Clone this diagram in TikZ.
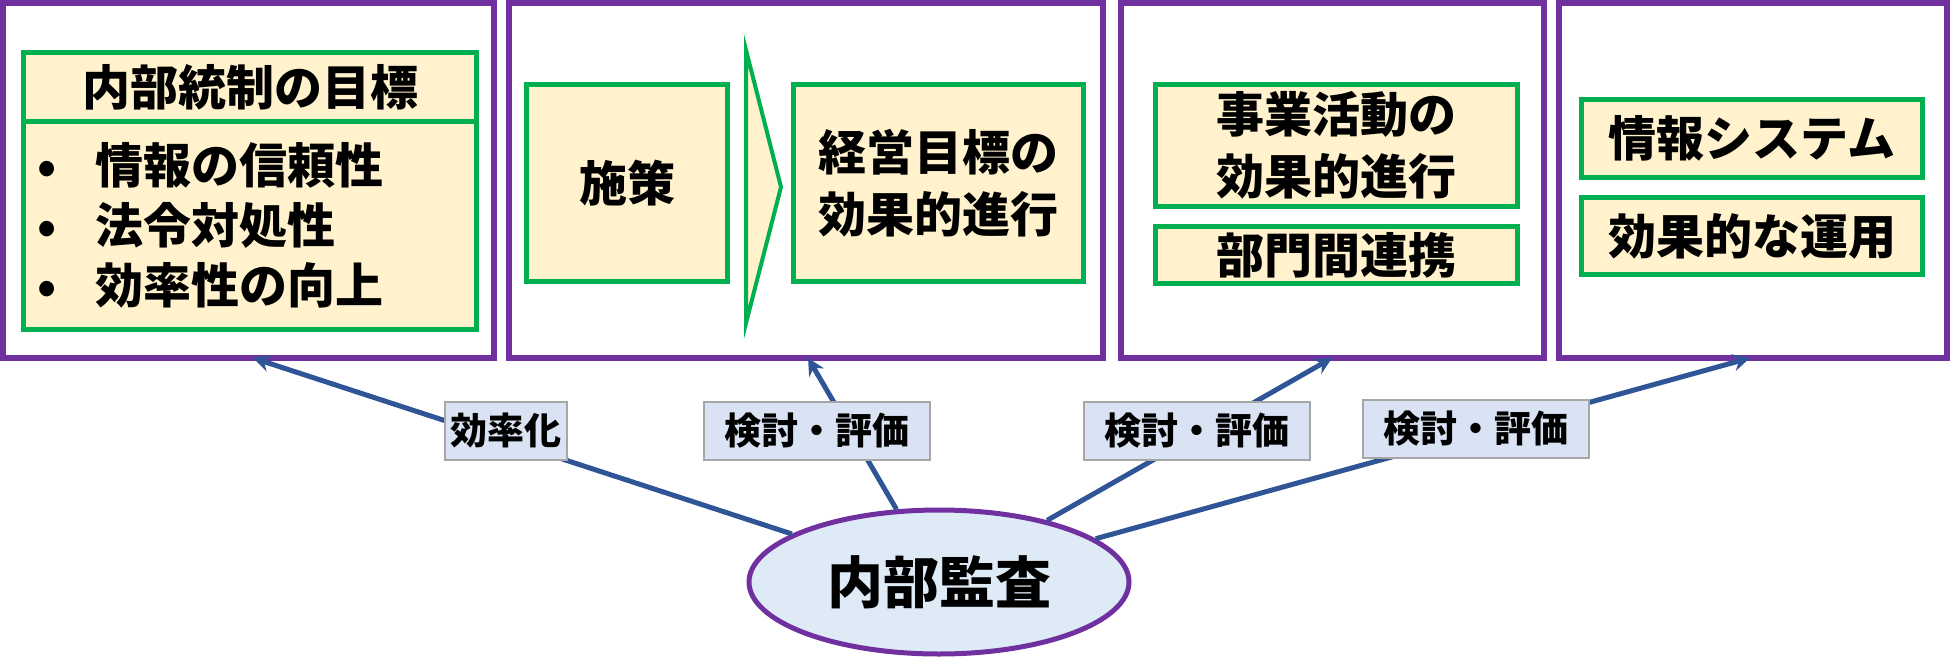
\documentclass[tikz,border=0pt]{standalone}
\usepackage{fontspec}
\setmainfont{Noto Sans CJK JP}
\usetikzlibrary{arrows.meta,shapes.geometric}

\definecolor{panelpurple}{HTML}{7030A0}
\definecolor{goalgreen}{HTML}{00B050}
\definecolor{goalcream}{HTML}{FFF2CC}
\definecolor{tagblue}{HTML}{DAE3F3}
\definecolor{taggray}{HTML}{A6A6A6}
\definecolor{linkblue}{HTML}{2F5597}
\definecolor{audblue}{HTML}{DEEBF7}

\begin{document}
\begin{tikzpicture}[x=1pt,y=-1pt,
		panel/.style={draw=panelpurple, line width=6pt, minimum width=#1, minimum height=355pt, inner sep=0pt},
		goal/.style={draw=goalgreen, fill=goalcream, line width=5pt, inner sep=0pt, align=center, font=\fontsize{48}{62}\selectfont\bfseries},
		tag/.style={draw=taggray, fill=tagblue, line width=1.5pt, minimum height=58pt, inner sep=0pt, font=\fontsize{37}{40}\selectfont\bfseries},
		link/.style={draw=linkblue, line width=5pt, -{Stealth[length=17pt,width=17pt]}}
	]
		\useasboundingbox (0,0) rectangle (1950,658);

		\node[panel=491pt] (frame1) at (248.5,180.5) {};
		\node[panel=594pt] (frame2) at (806,180.5) {};
		\node[panel=423pt] (frame3) at (1332.5,180.5) {};
		\node[panel=388pt] (frame4) at (1753,180.5) {};

		\node[goal, minimum width=453pt, minimum height=69.5pt] (aimhead) at (250,87.25) {内部統制の目標};
		\node[goal, text width=453pt, minimum height=207.5pt, align=left, font=\fontsize{48}{60}\selectfont\bfseries] (aimlist) at (250,225.75)
			{\makebox[48pt]{•}\hspace{24pt}情報の信頼性\\\makebox[48pt]{•}\hspace{24pt}法令対処性\\\makebox[48pt]{•}\hspace{24pt}効率性の向上};

		\node[goal, minimum width=201pt, minimum height=197pt] (measure) at (627,183) {施策};
		\node[goal, minimum width=290pt, minimum height=197pt] (target) at (938.5,183) {経営目標の\\効果的進行};

		\coordinate (T1) at (746,50);
		\coordinate (T2) at (781,187);
		\coordinate (T3) at (746,323);
		\filldraw[draw=goalgreen, fill=goalcream, line width=4pt] (T1) -- (T2) -- (T3) -- cycle;

		\node[goal, minimum width=362pt, minimum height=122pt] (business) at (1336.5,145.5) {事業活動の\\効果的進行};
		\node[goal, minimum width=362pt, minimum height=57pt] (linkage) at (1336.5,255) {部門間連携};

		\node[goal, minimum width=341pt, minimum height=78pt] (system) at (1752,138.5) {情報システム};
		\node[goal, minimum width=341pt, minimum height=77pt] (usage) at (1752,236) {効果的な運用};

		\node[ellipse, draw=panelpurple, fill=audblue, line width=5pt, minimum width=380pt, minimum height=144pt, inner sep=0pt, font=\fontsize{56}{60}\selectfont\bfseries] (audit) at (939,582) {内部監査};

		\coordinate (E1) at (253,358);
		\coordinate (E2) at (808,358);
		\coordinate (E3) at (1332,358);
		\coordinate (E4) at (1750,358);

		\draw[link] (audit) -- (E1);
		\draw[link] (audit) -- (E2);
		\draw[link] (audit) -- (E3);
		\draw[link] (audit) -- (E4);

		\node[tag, minimum width=122pt] (tag1) at (506,431) {効率化};
		\node[tag, minimum width=226pt] (tag2) at (817,431) {検討・評価};
		\node[tag, minimum width=226pt] (tag3) at (1197,431) {検討・評価};
		\node[tag, minimum width=226pt] (tag4) at (1476,429) {検討・評価};
	\end{tikzpicture}
\end{document}
